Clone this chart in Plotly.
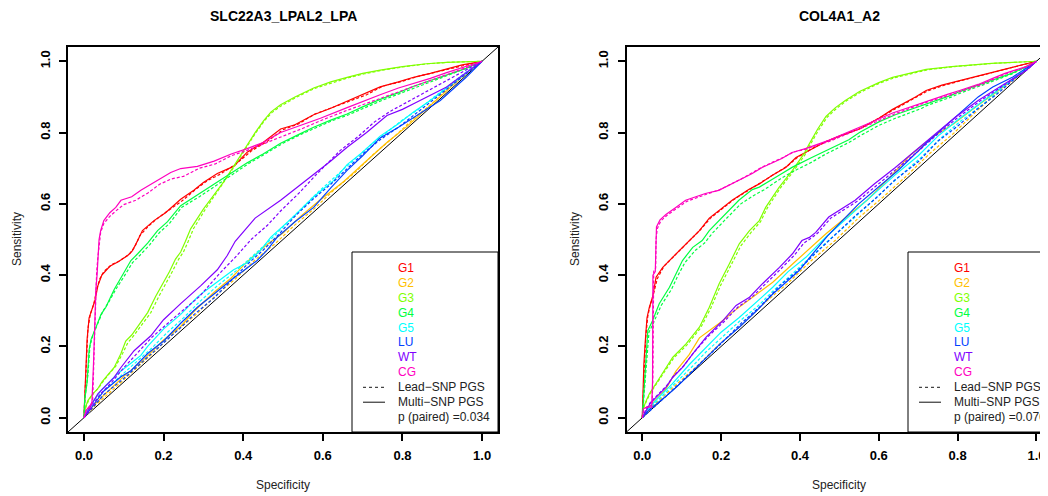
import plotly.graph_objects as go

W, H = 1048, 496
OFF = 8  # the page body margin shifts the figure by 8px right and down
FONT = "Liberation Sans, Arial, Helvetica, sans-serif"

groups = ["G1", "G2", "G3", "G4", "G5", "LU", "WT", "CG"]
colors = ["#FF0000", "#FFBF00", "#80FF00", "#00FF40", "#00FFFF", "#0040FF", "#8000FF", "#FF00BF"]
titles = ["SLC22A3_LPAL2_LPA", "COL4A1_A2"]
p_values = ["0.034", "0.076"]
tick_vals = [0.0, 0.2, 0.4, 0.6, 0.8, 1.0]
tick_labels = ["0.0", "0.2", "0.4", "0.6", "0.8", "1.0"]
diag = [-0.1, 1.1]

# ---------------- Panel 1: SLC22A3_LPAL2_LPA ----------------
SLC_MULTI_G1 = [(0,0),(0.002,0.06),(0.004,0.12),(0.008,0.22),(0.013,0.28),(0.022,0.31),(0.028,0.33),(0.035,0.37),(0.045,0.40),(0.065,0.425),(0.085,0.437),(0.11,0.455),(0.122,0.469),(0.135,0.497),(0.147,0.525),(0.176,0.553),(0.205,0.575),(0.243,0.613),(0.276,0.638),(0.30,0.66),(0.335,0.685),(0.376,0.705),(0.41,0.745),(0.45,0.772),(0.494,0.81),(0.53,0.822),(0.577,0.85),(0.62,0.868),(0.661,0.888),(0.70,0.905),(0.744,0.928),(0.79,0.942),(0.828,0.955),(0.87,0.966),(0.911,0.978),(0.95,0.99),(1,1)]
SLC_LEAD_G1 = [(0,0),(0.003,0.08),(0.006,0.18),(0.01,0.25),(0.016,0.29),(0.025,0.32),(0.032,0.36),(0.04,0.39),(0.05,0.41),(0.07,0.43),(0.09,0.44),(0.115,0.46),(0.128,0.48),(0.14,0.51),(0.16,0.535),(0.18,0.555),(0.21,0.58),(0.245,0.607),(0.28,0.64),(0.31,0.665),(0.34,0.682),(0.38,0.71),(0.42,0.748),(0.46,0.775),(0.5,0.808),(0.54,0.825),(0.58,0.852),(0.63,0.872),(0.67,0.89),(0.71,0.906),(0.75,0.93),(0.8,0.944),(0.84,0.958),(0.88,0.968),(0.92,0.98),(0.96,0.99),(1,1)]
SLC_MULTI_G2 = [(0,0),(0.02,0.03),(0.05,0.063),(0.1,0.116),(0.15,0.163),(0.2,0.218),(0.243,0.256),(0.276,0.298),(0.327,0.352),(0.37,0.392),(0.41,0.438),(0.46,0.486),(0.5,0.518),(0.544,0.565),(0.59,0.608),(0.652,0.662),(0.703,0.714),(0.761,0.772),(0.81,0.816),(0.877,0.882),(0.93,0.935),(0.96,0.966),(1,1)]
SLC_LEAD_G2 = [(0,0),(0.03,0.036),(0.08,0.086),(0.13,0.137),(0.18,0.188),(0.23,0.242),(0.28,0.288),(0.33,0.342),(0.38,0.389),(0.43,0.443),(0.48,0.488),(0.53,0.541),(0.58,0.588),(0.63,0.641),(0.68,0.687),(0.73,0.742),(0.78,0.789),(0.83,0.841),(0.88,0.887),(0.93,0.94),(0.97,0.975),(1,1)]
SLC_MULTI_G3 = [(0,0),(0.004,0.03),(0.01,0.048),(0.022,0.067),(0.034,0.08),(0.045,0.1),(0.06,0.12),(0.076,0.141),(0.093,0.18),(0.105,0.215),(0.12,0.232),(0.138,0.26),(0.16,0.295),(0.18,0.34),(0.2,0.38),(0.215,0.41),(0.23,0.445),(0.243,0.465),(0.255,0.495),(0.268,0.53),(0.30,0.585),(0.327,0.625),(0.35,0.66),(0.37,0.695),(0.39,0.73),(0.41,0.765),(0.43,0.80),(0.452,0.834),(0.47,0.858),(0.494,0.878),(0.53,0.9),(0.577,0.925),(0.62,0.942),(0.661,0.955),(0.70,0.966),(0.744,0.975),(0.8,0.985),(0.86,0.993),(0.911,0.997),(1,1)]
SLC_LEAD_G3 = [(0,0),(0.005,0.03),(0.012,0.05),(0.025,0.07),(0.038,0.085),(0.05,0.105),(0.065,0.125),(0.08,0.145),(0.097,0.18),(0.11,0.21),(0.125,0.23),(0.145,0.26),(0.168,0.295),(0.188,0.34),(0.208,0.38),(0.222,0.41),(0.238,0.445),(0.25,0.465),(0.262,0.495),(0.275,0.53),(0.305,0.585),(0.33,0.625),(0.352,0.66),(0.372,0.695),(0.392,0.73),(0.412,0.765),(0.432,0.80),(0.454,0.834),(0.472,0.856),(0.497,0.876),(0.535,0.9),(0.58,0.924),(0.625,0.94),(0.665,0.954),(0.705,0.965),(0.75,0.975),(0.805,0.985),(0.865,0.993),(0.915,0.997),(1,1)]
SLC_MULTI_G4 = [(0,0),(0.002,0.05),(0.008,0.1),(0.013,0.19),(0.018,0.22),(0.03,0.25),(0.036,0.27),(0.043,0.29),(0.055,0.31),(0.076,0.36),(0.097,0.40),(0.118,0.441),(0.135,0.46),(0.16,0.49),(0.185,0.525),(0.21,0.55),(0.243,0.595),(0.285,0.625),(0.327,0.655),(0.37,0.688),(0.41,0.715),(0.45,0.74),(0.494,0.77),(0.54,0.795),(0.577,0.815),(0.62,0.835),(0.661,0.852),(0.70,0.872),(0.744,0.893),(0.79,0.912),(0.828,0.93),(0.87,0.946),(0.911,0.962),(0.96,0.98),(1,1)]
SLC_LEAD_G4 = [(0,0),(0.003,0.06),(0.01,0.12),(0.015,0.2),(0.022,0.23),(0.033,0.26),(0.04,0.28),(0.048,0.3),(0.06,0.32),(0.08,0.36),(0.1,0.395),(0.122,0.435),(0.14,0.455),(0.165,0.485),(0.19,0.52),(0.215,0.545),(0.245,0.59),(0.29,0.62),(0.33,0.65),(0.375,0.685),(0.415,0.714),(0.455,0.74),(0.5,0.77),(0.545,0.795),(0.585,0.815),(0.625,0.834),(0.665,0.85),(0.705,0.87),(0.75,0.891),(0.795,0.91),(0.835,0.928),(0.875,0.944),(0.915,0.961),(0.96,0.98),(1,1)]
SLC_MULTI_G5 = [(0,0),(0.013,0.03),(0.043,0.077),(0.085,0.124),(0.126,0.16),(0.143,0.175),(0.16,0.2),(0.201,0.25),(0.243,0.29),(0.285,0.338),(0.30,0.352),(0.352,0.394),(0.376,0.415),(0.41,0.435),(0.444,0.47),(0.469,0.506),(0.527,0.565),(0.577,0.62),(0.627,0.665),(0.661,0.71),(0.70,0.745),(0.744,0.79),(0.79,0.825),(0.828,0.858),(0.87,0.89),(0.911,0.925),(0.953,0.96),(1,1)]
SLC_LEAD_G5 = [(0,0),(0.015,0.03),(0.045,0.07),(0.09,0.115),(0.13,0.155),(0.17,0.195),(0.21,0.24),(0.25,0.28),(0.29,0.325),(0.335,0.37),(0.38,0.41),(0.42,0.45),(0.46,0.49),(0.5,0.535),(0.545,0.585),(0.59,0.635),(0.64,0.685),(0.68,0.725),(0.72,0.765),(0.76,0.8),(0.8,0.835),(0.84,0.865),(0.88,0.9),(0.92,0.935),(0.96,0.97),(1,1)]
SLC_MULTI_LU = [(0,0),(0.02,0.03),(0.05,0.075),(0.093,0.115),(0.118,0.132),(0.16,0.18),(0.201,0.216),(0.243,0.265),(0.285,0.31),(0.33,0.35),(0.368,0.385),(0.41,0.42),(0.435,0.441),(0.46,0.47),(0.485,0.506),(0.53,0.55),(0.577,0.59),(0.62,0.645),(0.661,0.694),(0.70,0.735),(0.744,0.785),(0.79,0.815),(0.828,0.843),(0.86,0.865),(0.895,0.89),(0.93,0.925),(0.96,0.955),(1,1)]
SLC_LEAD_LU = [(0,0),(0.02,0.025),(0.05,0.065),(0.1,0.11),(0.15,0.16),(0.2,0.21),(0.25,0.26),(0.277,0.29),(0.327,0.336),(0.37,0.385),(0.41,0.43),(0.45,0.47),(0.49,0.515),(0.53,0.565),(0.577,0.615),(0.62,0.655),(0.661,0.7),(0.70,0.74),(0.744,0.78),(0.79,0.815),(0.83,0.85),(0.87,0.885),(0.91,0.92),(0.955,0.96),(1,1)]
SLC_MULTI_WT = [(0,0),(0.015,0.03),(0.035,0.067),(0.055,0.09),(0.076,0.113),(0.093,0.141),(0.126,0.188),(0.168,0.23),(0.2,0.275),(0.243,0.32),(0.293,0.37),(0.335,0.415),(0.36,0.455),(0.38,0.495),(0.43,0.56),(0.494,0.61),(0.54,0.65),(0.577,0.684),(0.62,0.72),(0.661,0.759),(0.71,0.8),(0.761,0.848),(0.8,0.865),(0.828,0.881),(0.87,0.905),(0.911,0.928),(0.95,0.96),(1,1)]
SLC_LEAD_WT = [(0,0),(0.02,0.03),(0.04,0.065),(0.07,0.1),(0.1,0.14),(0.17,0.225),(0.226,0.28),(0.29,0.34),(0.34,0.404),(0.38,0.45),(0.42,0.5),(0.461,0.54),(0.494,0.58),(0.54,0.63),(0.586,0.685),(0.644,0.75),(0.69,0.79),(0.73,0.83),(0.77,0.86),(0.82,0.89),(0.87,0.92),(0.92,0.95),(0.96,0.975),(1,1)]
SLC_MULTI_CG = [(0,0),(0.005,0.02),(0.012,0.03),(0.02,0.04),(0.024,0.15),(0.027,0.3),(0.03,0.36),(0.033,0.4),(0.036,0.47),(0.038,0.5),(0.042,0.525),(0.05,0.553),(0.065,0.575),(0.08,0.59),(0.093,0.61),(0.12,0.62),(0.143,0.638),(0.185,0.666),(0.218,0.688),(0.243,0.699),(0.285,0.705),(0.327,0.72),(0.37,0.74),(0.41,0.755),(0.45,0.772),(0.494,0.8),(0.54,0.818),(0.594,0.84),(0.661,0.87),(0.71,0.89),(0.744,0.906),(0.79,0.925),(0.828,0.937),(0.87,0.952),(0.911,0.968),(0.95,0.982),(1,1)]
SLC_LEAD_CG = [(0,0),(0.006,0.02),(0.015,0.03),(0.022,0.05),(0.026,0.2),(0.029,0.33),(0.032,0.41),(0.035,0.45),(0.038,0.49),(0.042,0.52),(0.05,0.545),(0.065,0.565),(0.08,0.58),(0.1,0.598),(0.13,0.61),(0.16,0.63),(0.19,0.655),(0.22,0.67),(0.25,0.677),(0.29,0.7),(0.33,0.712),(0.37,0.735),(0.41,0.75),(0.45,0.767),(0.5,0.79),(0.55,0.812),(0.6,0.836),(0.66,0.862),(0.71,0.882),(0.75,0.897),(0.8,0.917),(0.84,0.932),(0.88,0.95),(0.92,0.966),(0.96,0.982),(1,1)]

# ---------------- Panel 2: COL4A1_A2 ----------------
COL_MULTI_G1 = [(0,0),(0.002,0.08),(0.004,0.15),(0.008,0.22),(0.012,0.28),(0.018,0.31),(0.026,0.338),(0.035,0.394),(0.052,0.422),(0.077,0.45),(0.102,0.478),(0.12,0.497),(0.145,0.525),(0.17,0.56),(0.2,0.585),(0.228,0.61),(0.27,0.64),(0.297,0.656),(0.33,0.68),(0.364,0.702),(0.39,0.73),(0.431,0.755),(0.466,0.775),(0.5,0.79),(0.551,0.81),(0.6,0.84),(0.635,0.865),(0.693,0.9),(0.72,0.918),(0.76,0.933),(0.805,0.946),(0.85,0.958),(0.889,0.97),(0.946,0.985),(1,1)]
COL_LEAD_G1 = [(0,0),(0.003,0.09),(0.005,0.16),(0.009,0.23),(0.014,0.285),(0.02,0.315),(0.028,0.345),(0.038,0.39),(0.055,0.425),(0.08,0.452),(0.105,0.48),(0.124,0.5),(0.148,0.528),(0.173,0.56),(0.203,0.586),(0.232,0.612),(0.272,0.64),(0.3,0.66),(0.333,0.682),(0.368,0.706),(0.393,0.73),(0.434,0.757),(0.47,0.776),(0.505,0.792),(0.555,0.812),(0.603,0.842),(0.64,0.866),(0.696,0.9),(0.724,0.917),(0.764,0.932),(0.81,0.946),(0.854,0.958),(0.892,0.97),(0.948,0.985),(1,1)]
COL_MULTI_G2 = [(0,0),(0.01,0.02),(0.03,0.045),(0.06,0.08),(0.085,0.13),(0.119,0.177),(0.145,0.224),(0.17,0.244),(0.204,0.272),(0.23,0.297),(0.27,0.33),(0.331,0.38),(0.38,0.43),(0.415,0.465),(0.466,0.516),(0.52,0.565),(0.57,0.61),(0.62,0.665),(0.678,0.735),(0.736,0.787),(0.79,0.825),(0.85,0.875),(0.9,0.915),(0.95,0.955),(1,1)]
COL_LEAD_G2 = [(0,0),(0.03,0.036),(0.08,0.087),(0.14,0.146),(0.2,0.211),(0.25,0.258),(0.31,0.322),(0.37,0.378),(0.43,0.442),(0.49,0.498),(0.55,0.562),(0.61,0.618),(0.67,0.678),(0.73,0.742),(0.79,0.798),(0.85,0.862),(0.9,0.912),(0.95,0.96),(1,1)]
COL_MULTI_G3 = [(0,0),(0.003,0.028),(0.01,0.048),(0.018,0.067),(0.043,0.11),(0.06,0.141),(0.077,0.169),(0.111,0.207),(0.145,0.254),(0.17,0.31),(0.195,0.376),(0.221,0.432),(0.246,0.488),(0.272,0.525),(0.297,0.553),(0.313,0.59),(0.347,0.646),(0.381,0.694),(0.41,0.74),(0.424,0.769),(0.445,0.81),(0.466,0.845),(0.49,0.87),(0.515,0.89),(0.551,0.915),(0.6,0.94),(0.635,0.955),(0.72,0.977),(0.785,0.985),(0.886,0.994),(1,1)]
COL_LEAD_G3 = [(0,0),(0.004,0.03),(0.012,0.05),(0.02,0.068),(0.045,0.11),(0.063,0.14),(0.08,0.168),(0.114,0.205),(0.148,0.252),(0.174,0.308),(0.199,0.372),(0.225,0.428),(0.25,0.482),(0.276,0.52),(0.3,0.55),(0.317,0.588),(0.35,0.644),(0.384,0.692),(0.413,0.738),(0.427,0.768),(0.448,0.808),(0.469,0.843),(0.493,0.868),(0.518,0.889),(0.555,0.914),(0.603,0.939),(0.64,0.954),(0.724,0.976),(0.79,0.985),(0.89,0.994),(1,1)]
COL_MULTI_G4 = [(0,0),(0.003,0.05),(0.006,0.12),(0.01,0.18),(0.014,0.244),(0.026,0.272),(0.043,0.32),(0.069,0.366),(0.085,0.404),(0.102,0.441),(0.128,0.478),(0.152,0.497),(0.17,0.525),(0.203,0.563),(0.245,0.61),(0.279,0.64),(0.297,0.647),(0.347,0.68),(0.381,0.703),(0.43,0.73),(0.466,0.75),(0.524,0.78),(0.551,0.8),(0.6,0.83),(0.642,0.85),(0.709,0.875),(0.72,0.88),(0.785,0.905),(0.805,0.915),(0.87,0.94),(0.889,0.947),(0.937,0.966),(0.974,0.985),(1,1)]
COL_LEAD_G4 = [(0,0),(0.004,0.06),(0.008,0.13),(0.012,0.19),(0.017,0.24),(0.03,0.27),(0.048,0.315),(0.074,0.36),(0.09,0.398),(0.108,0.435),(0.135,0.47),(0.158,0.49),(0.178,0.518),(0.21,0.555),(0.25,0.6),(0.285,0.625),(0.31,0.64),(0.35,0.67),(0.381,0.69),(0.43,0.717),(0.466,0.74),(0.524,0.772),(0.551,0.79),(0.6,0.82),(0.642,0.84),(0.709,0.868),(0.72,0.875),(0.785,0.9),(0.805,0.91),(0.87,0.936),(0.889,0.944),(0.937,0.964),(0.974,0.984),(1,1)]
COL_MULTI_G5 = [(0,0),(0.01,0.02),(0.04,0.055),(0.076,0.095),(0.12,0.15),(0.162,0.197),(0.2,0.24),(0.246,0.281),(0.29,0.325),(0.331,0.366),(0.37,0.41),(0.415,0.45),(0.466,0.507),(0.52,0.56),(0.58,0.62),(0.64,0.68),(0.7,0.735),(0.75,0.79),(0.8,0.835),(0.86,0.885),(0.92,0.935),(0.97,0.975),(1,1)]
COL_LEAD_G5 = [(0,0),(0.012,0.02),(0.045,0.055),(0.085,0.098),(0.128,0.145),(0.162,0.185),(0.205,0.228),(0.246,0.27),(0.295,0.315),(0.331,0.355),(0.375,0.398),(0.415,0.44),(0.47,0.495),(0.525,0.548),(0.585,0.61),(0.645,0.67),(0.705,0.728),(0.755,0.782),(0.805,0.83),(0.865,0.88),(0.92,0.932),(0.97,0.974),(1,1)]
COL_MULTI_LU = [(0,0),(0.015,0.02),(0.043,0.045),(0.077,0.076),(0.1,0.1),(0.162,0.169),(0.2,0.21),(0.246,0.254),(0.29,0.3),(0.331,0.347),(0.364,0.38),(0.398,0.413),(0.425,0.45),(0.47,0.51),(0.549,0.6),(0.65,0.695),(0.72,0.77),(0.76,0.81),(0.805,0.853),(0.822,0.872),(0.852,0.9),(0.889,0.928),(0.94,0.956),(1,1)]
COL_LEAD_LU = [(0,0),(0.02,0.02),(0.06,0.06),(0.11,0.113),(0.16,0.166),(0.2,0.208),(0.25,0.264),(0.3,0.313),(0.35,0.372),(0.39,0.408),(0.44,0.462),(0.49,0.513),(0.54,0.566),(0.59,0.613),(0.64,0.666),(0.7,0.718),(0.75,0.776),(0.8,0.818),(0.85,0.866),(0.9,0.908),(0.95,0.956),(1,1)]
COL_MULTI_WT = [(0,0),(0.009,0.02),(0.02,0.04),(0.035,0.057),(0.06,0.085),(0.077,0.113),(0.102,0.141),(0.128,0.179),(0.162,0.226),(0.204,0.272),(0.238,0.315),(0.272,0.338),(0.305,0.376),(0.348,0.422),(0.381,0.46),(0.405,0.497),(0.424,0.506),(0.44,0.52),(0.473,0.563),(0.54,0.61),(0.59,0.657),(0.642,0.702),(0.693,0.75),(0.743,0.797),(0.794,0.843),(0.852,0.89),(0.92,0.937),(0.974,0.975),(1,1)]
COL_LEAD_WT = [(0,0),(0.01,0.025),(0.022,0.045),(0.037,0.062),(0.062,0.09),(0.08,0.118),(0.105,0.145),(0.13,0.182),(0.165,0.226),(0.208,0.27),(0.242,0.31),(0.276,0.336),(0.31,0.372),(0.352,0.418),(0.385,0.455),(0.41,0.49),(0.43,0.505),(0.445,0.518),(0.478,0.56),(0.545,0.607),(0.595,0.652),(0.646,0.698),(0.697,0.745),(0.747,0.793),(0.798,0.84),(0.855,0.887),(0.922,0.935),(0.975,0.975),(1,1)]
COL_MULTI_CG = [(0,0),(0.003,0.025),(0.012,0.03),(0.024,0.03),(0.026,0.1),(0.026,0.25),(0.027,0.4),(0.033,0.41),(0.034,0.5),(0.036,0.535),(0.045,0.555),(0.06,0.57),(0.085,0.59),(0.11,0.61),(0.16,0.629),(0.194,0.638),(0.245,0.666),(0.279,0.685),(0.304,0.702),(0.354,0.727),(0.38,0.744),(0.414,0.755),(0.473,0.778),(0.515,0.797),(0.566,0.822),(0.635,0.855),(0.70,0.88),(0.72,0.888),(0.776,0.908),(0.805,0.918),(0.852,0.935),(0.889,0.952),(0.92,0.966),(0.974,0.985),(1,1)]
COL_LEAD_CG = [(0,0),(0.004,0.025),(0.014,0.032),(0.025,0.035),(0.027,0.12),(0.028,0.27),(0.029,0.41),(0.034,0.42),(0.035,0.5),(0.038,0.53),(0.047,0.552),(0.063,0.568),(0.088,0.588),(0.113,0.607),(0.163,0.627),(0.197,0.64),(0.248,0.668),(0.282,0.688),(0.307,0.705),(0.357,0.73),(0.383,0.745),(0.417,0.754),(0.476,0.776),(0.518,0.795),(0.57,0.82),(0.64,0.852),(0.703,0.878),(0.724,0.886),(0.78,0.905),(0.81,0.916),(0.856,0.933),(0.892,0.95),(0.923,0.965),(0.976,0.985),(1,1)]

panels = [
    {"lead": [SLC_LEAD_G1, SLC_LEAD_G2, SLC_LEAD_G3, SLC_LEAD_G4, SLC_LEAD_G5, SLC_LEAD_LU, SLC_LEAD_WT, SLC_LEAD_CG],
     "multi": [SLC_MULTI_G1, SLC_MULTI_G2, SLC_MULTI_G3, SLC_MULTI_G4, SLC_MULTI_G5, SLC_MULTI_LU, SLC_MULTI_WT, SLC_MULTI_CG]},
    {"lead": [COL_LEAD_G1, COL_LEAD_G2, COL_LEAD_G3, COL_LEAD_G4, COL_LEAD_G5, COL_LEAD_LU, COL_LEAD_WT, COL_LEAD_CG],
     "multi": [COL_MULTI_G1, COL_MULTI_G2, COL_MULTI_G3, COL_MULTI_G4, COL_MULTI_G5, COL_MULTI_LU, COL_MULTI_WT, COL_MULTI_CG]},
]

fig = go.Figure()
axis_ids = [("x", "y"), ("x2", "y2")]
for pi, panel in enumerate(panels):
    xa, ya = axis_ids[pi]
    fig.add_trace(go.Scatter(x=diag, y=diag, mode="lines", xaxis=xa, yaxis=ya,
                             line=dict(color="black", width=1), hoverinfo="skip", showlegend=False))
    for gi in range(len(groups)):
        for kind, dash in (("lead", "3px,2px"), ("multi", "solid")):
            pts = panel[kind][gi]
            fig.add_trace(go.Scatter(
                x=[p[0] for p in pts], y=[p[1] for p in pts], mode="lines",
                xaxis=xa, yaxis=ya, name=f"{groups[gi]} {kind}",
                line=dict(color=colors[gi], width=1.2, dash=dash, shape="linear"),
                hoverinfo="skip", showlegend=False))

# screen-pixel (as seen in the window) -> paper coordinates
def px2x(p):
    return (p - OFF) / W

def px2y(p):
    return 1 - (p - OFF) / H

tickfont = dict(family=FONT, size=13, color="black", weight="bold")
common = dict(showgrid=False, zeroline=False, showline=True, linecolor="black", linewidth=2,
              ticks="outside", ticklen=7, tickwidth=1.5, tickcolor="black",
              tickvals=tick_vals, ticktext=tick_labels, tickfont=tickfont)

ydom = [px2y(432), px2y(47)]
# right panel: 0 at x=642.5 px, 394 px per unit; extends past the window edge
right_end_px = OFF + W
right_max = (right_end_px - 642.5) / 394.0
fig.update_layout(
    width=W, height=H, margin=dict(l=0, r=0, t=0, b=0),
    paper_bgcolor="white", plot_bgcolor="white", showlegend=False,
    xaxis=dict(domain=[px2x(68), px2x(498)], range=[-0.04, 1.04], anchor="y", mirror=True,
               ticklabelstandoff=3, **common),
    yaxis=dict(domain=ydom, range=[-0.04, 1.04], anchor="x", mirror=True, tickangle=-90,
               ticklabelstandoff=4, **common),
    xaxis2=dict(domain=[px2x(626.5), 1.0], range=[-0.04, right_max], anchor="y2", mirror=True,
                ticklabelstandoff=3, **common),
    yaxis2=dict(domain=ydom, range=[-0.04, 1.04], anchor="x2", mirror=False, tickangle=-90,
                ticklabelstandoff=4, **common),
)

annotations = []
shapes = []
title_cx = [283, 839]
ylab_cx = [17, 575]
legend_left = [352, 908]
legend_right = [498, 1062]
for pi in range(2):
    annotations.append(dict(x=px2x(title_cx[pi]), y=px2y(16), xref="paper", yref="paper",
                            text=titles[pi], showarrow=False, xanchor="center", yanchor="middle",
                            font=dict(family=FONT, size=14, color="black", weight="bold")))
    annotations.append(dict(x=px2x(title_cx[pi]), y=px2y(485), xref="paper", yref="paper",
                            text="Specificity", showarrow=False, xanchor="center", yanchor="middle",
                            font=dict(family=FONT, size=12, color="#222222")))
    annotations.append(dict(x=px2x(ylab_cx[pi]), y=px2y(239), xref="paper", yref="paper",
                            text="Sensitivity", showarrow=False, xanchor="center", yanchor="middle",
                            textangle=-90, font=dict(family=FONT, size=12, color="#222222")))
    bx = legend_left[pi]
    shapes.append(dict(type="rect", xref="paper", yref="paper",
                       x0=px2x(bx), x1=px2x(legend_right[pi]), y0=px2y(432), y1=px2y(252),
                       line=dict(color="black", width=1), fillcolor="white", layer="above"))
    rows = groups + ["Lead\u2212SNP PGS", "Multi\u2212SNP PGS", "p (paired) =" + p_values[pi]]
    row_cols = colors + ["#222222", "#222222", "#222222"]
    for ri, (txt, col) in enumerate(zip(rows, row_cols)):
        yc = 267.7 + 14.95 * ri
        annotations.append(dict(x=px2x(bx + 44), y=px2y(yc), xref="paper", yref="paper",
                                text=txt, showarrow=False, xanchor="left", yanchor="middle",
                                font=dict(family=FONT, size=12, color=col)))
    for ri, dash in ((8, "3px,3px"), (9, "solid")):
        yc = px2y(267.7 + 14.95 * ri)
        shapes.append(dict(type="line", xref="paper", yref="paper",
                           x0=px2x(bx + 11), x1=px2x(bx + 33), y0=yc, y1=yc,
                           line=dict(color="#444444", width=1.3, dash=dash), layer="above"))

fig.update_layout(annotations=annotations, shapes=shapes)
fig.write_html("out.html")
